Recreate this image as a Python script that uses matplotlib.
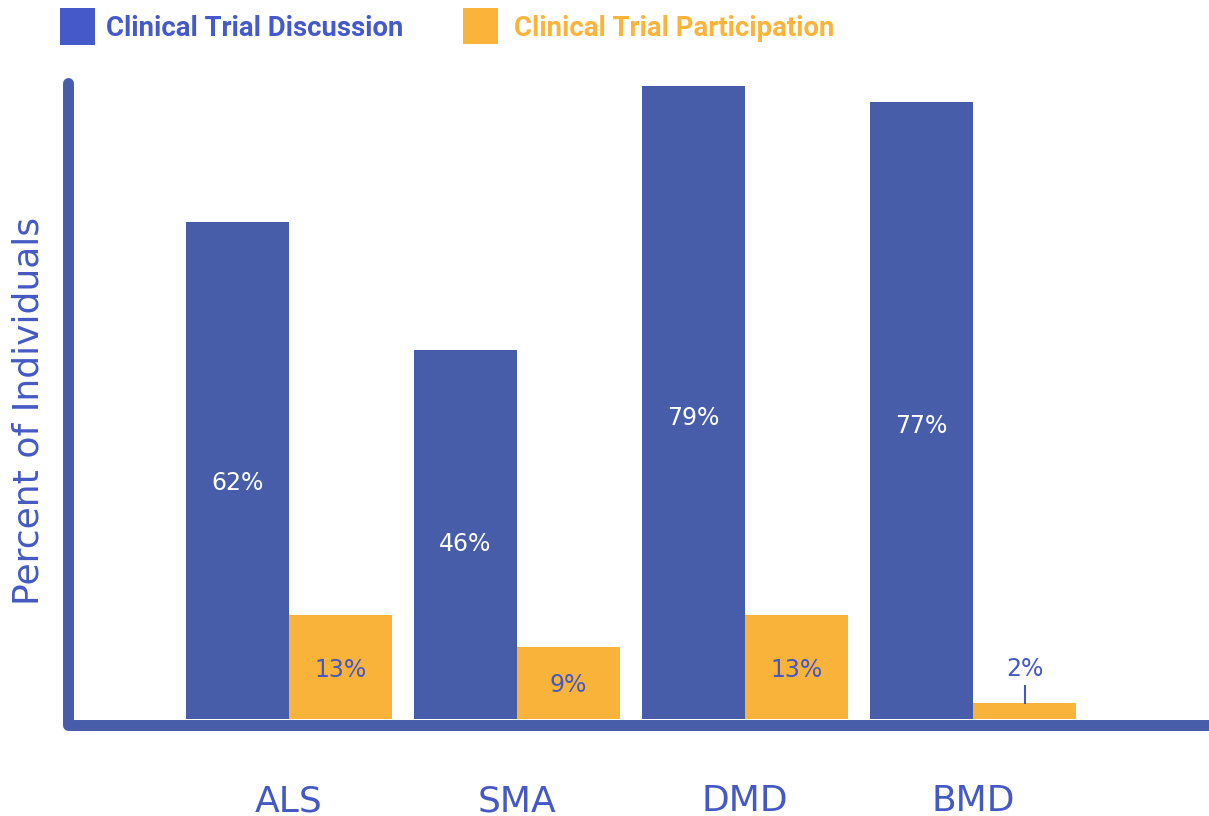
import matplotlib
matplotlib.use("Agg")
import matplotlib.pyplot as plt
from matplotlib.patches import Rectangle
import numpy as np

categories = ["ALS", "SMA", "DMD", "BMD"]
discussion = [62, 46, 79, 77]
participation = [13, 9, 13, 2]
series_names = ["Clinical Trial Discussion", "Clinical Trial Participation"]

BLUE = "#475DA9"
BLUE_TXT = "#4559C4"
ORANGE = "#F9B33B"
FONT = "DejaVu Sans"

W, H = 1209, 816
fig = plt.figure(figsize=(W / 100, H / 100), dpi=100)
fig.patch.set_facecolor("white")

# axes region in pixels: x 73..1209, y 80..719 (from top)
ax_l, ax_r, ax_t, ax_b = 73, 1209, 80, 719
ax = fig.add_axes([ax_l / W, (H - ax_b) / H, (ax_r - ax_l) / W, (ax_b - ax_t) / H])
ax.set_facecolor("none")

x = np.arange(len(categories))
bw = 0.452
ax.bar(x - bw / 2, discussion, width=bw, color=BLUE, linewidth=0, zorder=2)
ax.bar(x + bw / 2, participation, width=bw, color=ORANGE, linewidth=0, zorder=2)

ax.set_xlim(-0.947, 4.035)
ax.set_ylim(0, 79.7)

for s in ax.spines.values():
    s.set_visible(False)
ax.set_xticks(x)
ax.set_xticklabels(categories, fontsize=26, color=BLUE_TXT, family=FONT)
ax.tick_params(axis="x", length=0, pad=47)
ax.set_yticks([])

ax.set_ylabel("Percent of Individuals", fontsize=26, color=BLUE_TXT, family=FONT)
ax.yaxis.set_label_coords((45.6 - ax_l) / (ax_r - ax_l), (ax_b - 411) / (ax_b - ax_t))

# value labels
for i, v in enumerate(discussion):
    ax.text(x[i] - bw / 2, v * 0.475, f"{v}%", ha="center", va="center",
            color="white", fontsize=17, family=FONT, zorder=3)
for i, v in enumerate(participation):
    if v >= 5:
        ax.text(x[i] + bw / 2, v * 0.47, f"{v}%", ha="center", va="center",
                color=BLUE_TXT, fontsize=17, family=FONT, zorder=3)
    else:
        ax.text(x[i] + bw / 2, 6.2, f"{v}%", ha="center", va="center",
                color=BLUE_TXT, fontsize=17, family=FONT, zorder=3)
        ax.plot([x[i] + bw / 2, x[i] + bw / 2], [v, 4.1], color=BLUE_TXT,
                lw=1.5, zorder=3)

# axis lines (L-shape)
lx = (68 - ax_l) / (ax_r - ax_l)
by = -5.5 / (ax_b - ax_t)
ax.plot([lx, lx, 1.02], [0.995, by, by], transform=ax.transAxes, color=BLUE,
        lw=7.9, solid_capstyle="round", solid_joinstyle="round",
        clip_on=False, zorder=4)

# legend
def fig_rect(x0, y0, w, h, color):
    fig.patches.append(Rectangle((x0 / W, (H - y0 - h) / H), w / W, h / H,
                                 transform=fig.transFigure, color=color, lw=0))

fig_rect(60, 8, 35, 37, "#4559C9")
fig.text(106 / W, (H - 29) / H, series_names[0], fontsize=19.8, fontweight="bold",
         color="#4559C9", family="Roboto", va="center", ha="left")
fig_rect(463, 8, 35, 36, "#FBB43A")
fig.text(514 / W, (H - 28) / H, series_names[1], fontsize=19.8, fontweight="bold",
         color="#FBB43A", family="Roboto", va="center", ha="left")

fig.savefig("out.png", dpi=100, facecolor="white")
